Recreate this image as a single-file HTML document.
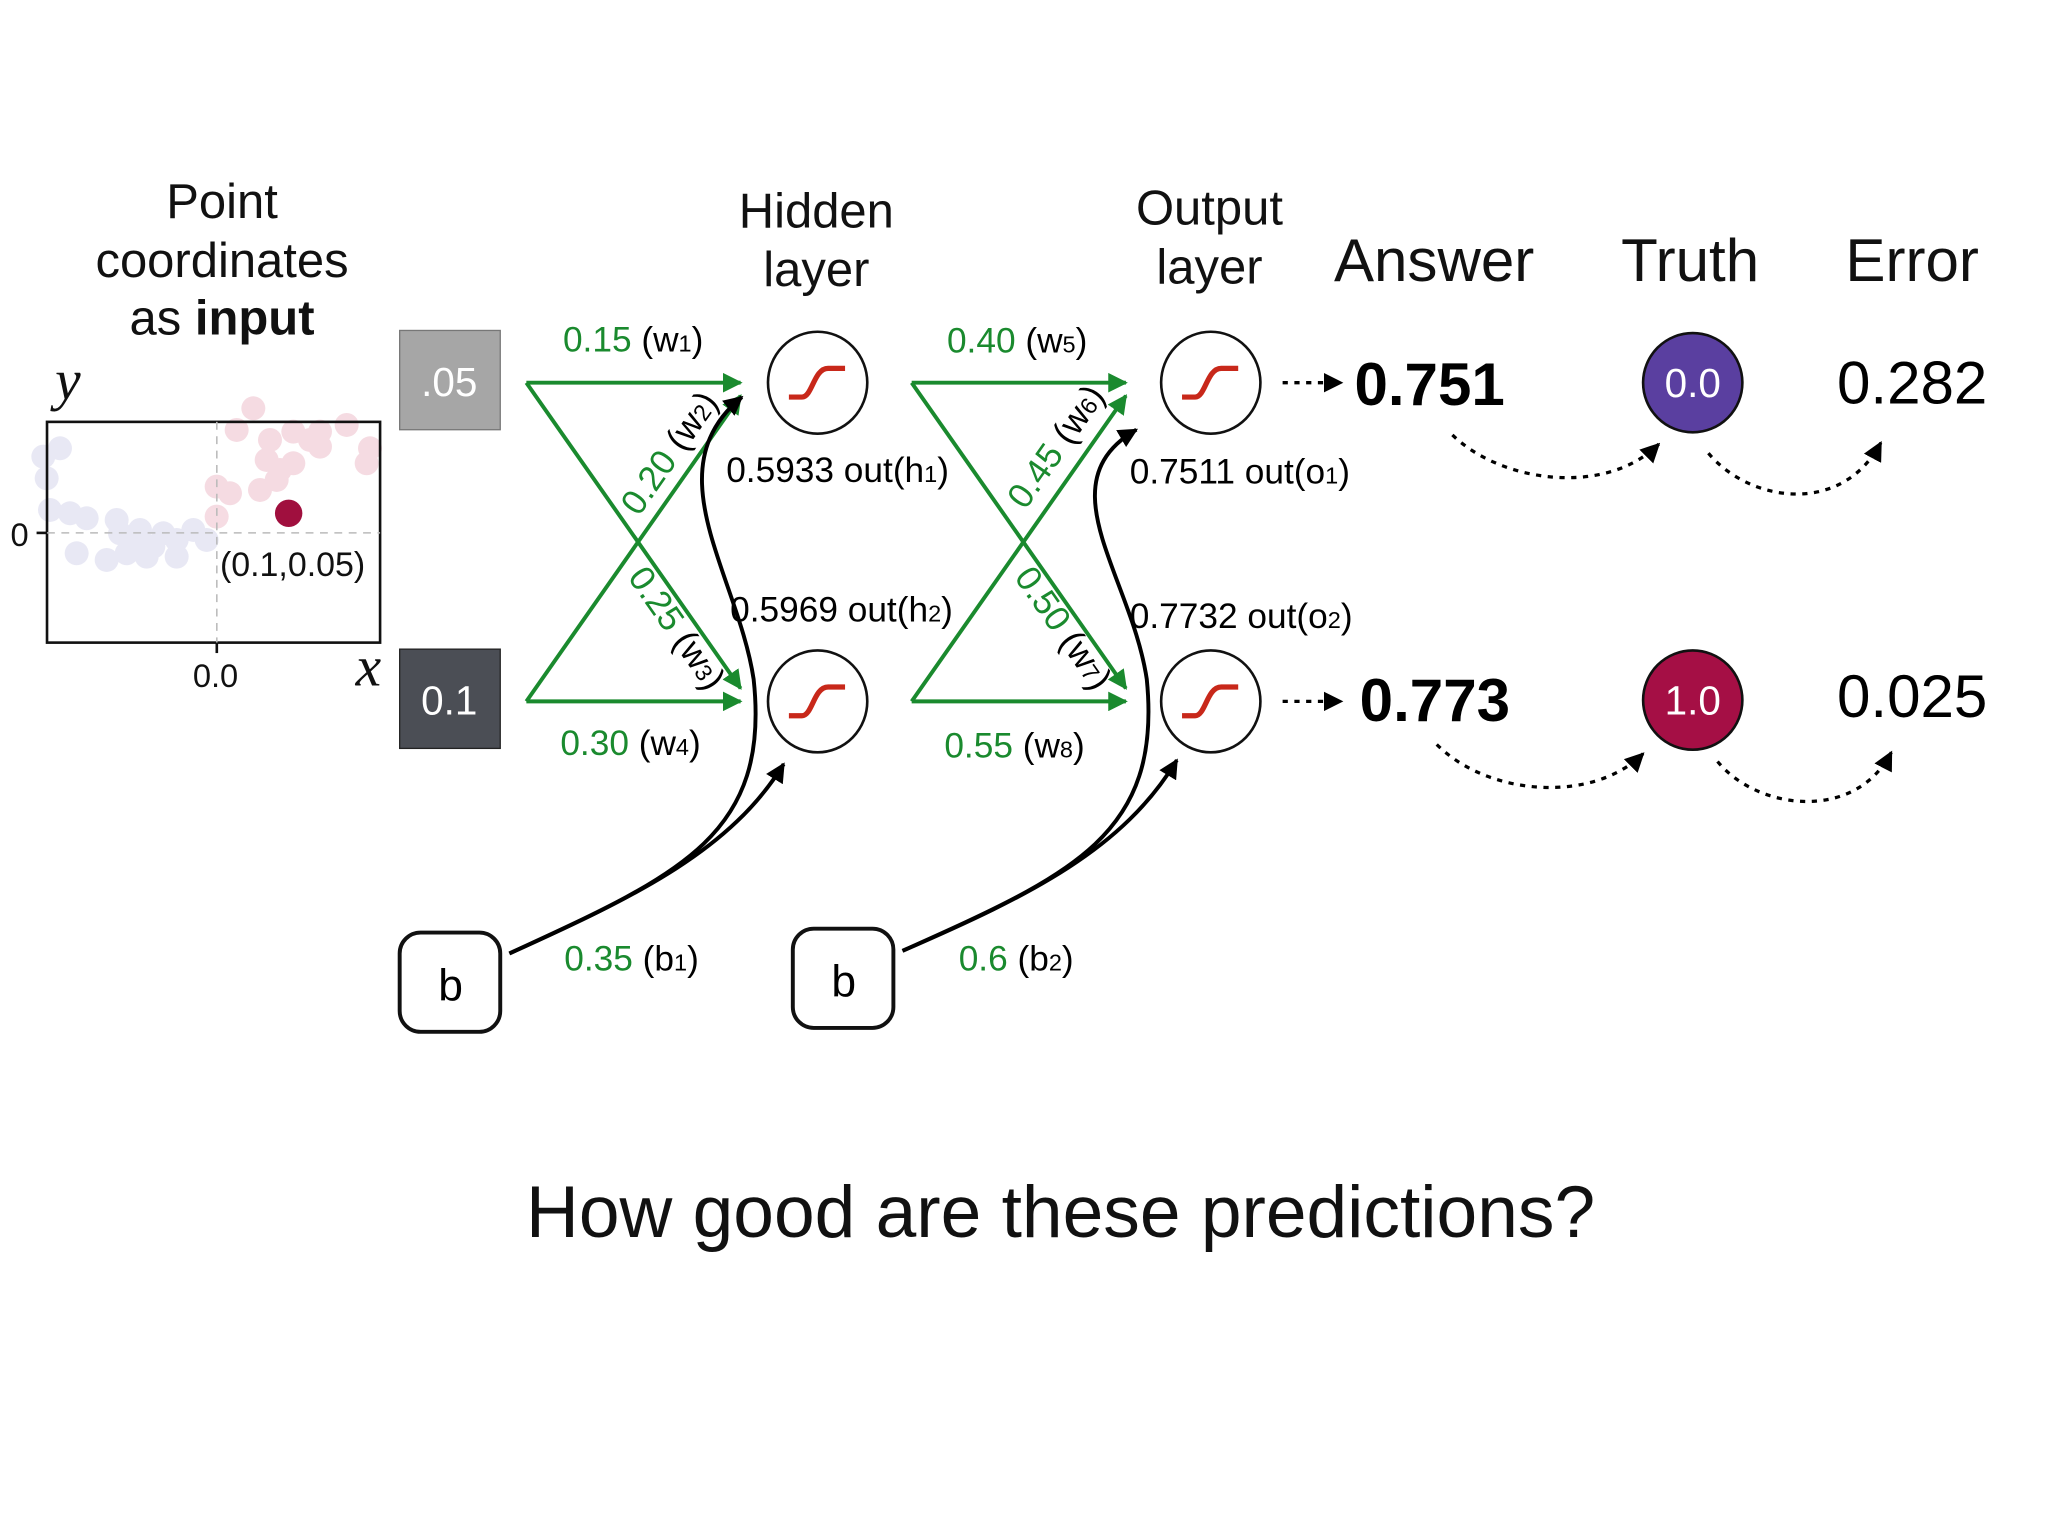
<!DOCTYPE html>
<html><head><meta charset="utf-8"><style>html,body{margin:0;padding:0;background:#fff}svg{display:block}text{font-family:"Liberation Sans",sans-serif}</style></head>
<body>
<svg width="2048" height="1536" viewBox="0 0 1568 1176" xmlns="http://www.w3.org/2000/svg">
<defs>
<marker id="ga" viewBox="0 0 10 10" refX="9" refY="5" markerWidth="5" markerHeight="5" orient="auto" markerUnits="strokeWidth"><path d="M0,0 L10,5 L0,10 z" fill="#1a8a2e"/></marker>
<marker id="ba" viewBox="0 0 10 10" refX="9" refY="5" markerWidth="5" markerHeight="5" orient="auto" markerUnits="strokeWidth"><path d="M0,0 L10,5 L0,10 z" fill="#000"/></marker>
<marker id="da" viewBox="0 0 10 10" refX="9" refY="5" markerWidth="6" markerHeight="6" orient="auto" markerUnits="strokeWidth"><path d="M0,0 L10,5 L0,10 z" fill="#000"/></marker>
<g id="sig"><path d="M-22,11 L-12,11 C-4,11 -3,-11 8,-11 L21,-11" fill="none" stroke="#c8281a" stroke-width="4"/></g>
</defs>

<g font-size="37.5" text-anchor="middle" fill="#111">
<text x="170" y="167">Point</text>
<text x="170" y="212">coordinates</text>
<text x="170" y="256">as <tspan font-weight="bold">input</tspan></text>
<text x="625" y="174">Hidden</text>
<text x="625" y="219">layer</text>
<text x="926" y="172">Output</text>
<text x="926" y="217">layer</text>
<text x="1098" y="215" font-size="46">Answer</text>
<text x="1294" y="215" font-size="46">Truth</text>
<text x="1464" y="215" font-size="46">Error</text>
</g>

<g transform="translate(0,275.6) scale(0.2552)">
<g fill="#c8c8e6" opacity="0.4">
<circle cx="180" cy="265" r="36"/><circle cx="130" cy="290" r="36"/><circle cx="140" cy="355" r="36"/><circle cx="150" cy="450" r="36"/><circle cx="210" cy="460" r="36"/><circle cx="260" cy="475" r="36"/><circle cx="230" cy="580" r="36"/><circle cx="320" cy="600" r="36"/><circle cx="350" cy="480" r="36"/><circle cx="360" cy="520" r="36"/><circle cx="400" cy="540" r="36"/><circle cx="420" cy="510" r="36"/><circle cx="460" cy="560" r="36"/><circle cx="490" cy="520" r="36"/><circle cx="530" cy="540" r="36"/><circle cx="580" cy="510" r="36"/><circle cx="620" cy="540" r="36"/><circle cx="440" cy="590" r="36"/><circle cx="530" cy="590" r="36"/><circle cx="380" cy="580" r="36"/>
</g>
<g fill="#e8a8b8" opacity="0.4">
<circle cx="760" cy="145" r="36"/><circle cx="710" cy="210" r="36"/><circle cx="810" cy="240" r="36"/><circle cx="880" cy="215" r="36"/><circle cx="960" cy="215" r="36"/><circle cx="1040" cy="195" r="36"/><circle cx="1110" cy="265" r="36"/><circle cx="1100" cy="310" r="36"/><circle cx="800" cy="300" r="36"/><circle cx="840" cy="330" r="36"/><circle cx="880" cy="310" r="36"/><circle cx="830" cy="360" r="36"/><circle cx="780" cy="390" r="36"/><circle cx="650" cy="380" r="36"/><circle cx="690" cy="400" r="36"/><circle cx="650" cy="470" r="36"/><circle cx="960" cy="260" r="36"/><circle cx="930" cy="240" r="36"/>
</g>
</g>
<rect x="36" y="323" width="255" height="169" fill="none" stroke="#111" stroke-width="2"/>
<line x1="36" y1="408" x2="291" y2="408" stroke="#bbb" stroke-width="1.2" stroke-dasharray="6,5"/>
<line x1="166" y1="323" x2="166" y2="492" stroke="#bbb" stroke-width="1.2" stroke-dasharray="6,5"/>
<line x1="28" y1="408" x2="36" y2="408" stroke="#111" stroke-width="2"/>
<line x1="166" y1="492" x2="166" y2="500" stroke="#111" stroke-width="2"/>
<circle cx="221" cy="393" r="10.5" fill="#a00f3e"/>
<text x="224" y="441" font-size="26" text-anchor="middle" fill="#111">(0.1,0.05)</text>
<text x="15" y="418" font-size="25" text-anchor="middle" fill="#111">0</text>
<text x="165" y="526" font-size="25" text-anchor="middle" fill="#111">0.0</text>
<text x="52" y="306" font-size="44" font-style="italic" text-anchor="middle" style="font-family:'Liberation Serif',serif" fill="#111">y</text>
<text x="282" y="525" font-size="44" font-style="italic" text-anchor="middle" style="font-family:'Liberation Serif',serif" fill="#111">x</text>

<rect x="306" y="253" width="77" height="76" fill="#a6a6a6" stroke="#777" stroke-width="1"/>
<text x="344" y="303" font-size="31" fill="#fff" text-anchor="middle">.05</text>
<rect x="306" y="497" width="77" height="76" fill="#4b4e55" stroke="#222" stroke-width="1"/>
<text x="344" y="547" font-size="31" fill="#fff" text-anchor="middle">0.1</text>

<g stroke="#1a8a2e" stroke-width="3" fill="none" marker-end="url(#ga)">
<line x1="403" y1="293" x2="567" y2="293"/>
<line x1="403" y1="293" x2="567" y2="527"/>
<line x1="403" y1="537" x2="567" y2="303"/>
<line x1="403" y1="537" x2="567" y2="537"/>
<line x1="698" y1="293" x2="862" y2="293"/>
<line x1="698" y1="293" x2="862" y2="527"/>
<line x1="698" y1="537" x2="862" y2="303"/>
<line x1="698" y1="537" x2="862" y2="537"/>
</g>
<g font-size="27">
<text x="431" y="269"><tspan fill="#1a8a2e">0.15</tspan> (w<tspan font-size="18">1</tspan>)</text>
<text x="429" y="578"><tspan fill="#1a8a2e">0.30</tspan> (w<tspan font-size="18">4</tspan>)</text>
<text x="725" y="270"><tspan fill="#1a8a2e">0.40</tspan> (w<tspan font-size="18">5</tspan>)</text>
<text x="723" y="580"><tspan fill="#1a8a2e">0.55</tspan> (w<tspan font-size="18">8</tspan>)</text>
<text transform="translate(489,396) rotate(-55)"><tspan fill="#1a8a2e">0.20</tspan> (w<tspan font-size="18">2</tspan>)</text>
<text transform="translate(785,391) rotate(-55)"><tspan fill="#1a8a2e">0.45</tspan> (w<tspan font-size="18">6</tspan>)</text>
<text transform="translate(480,442) rotate(55)"><tspan fill="#1a8a2e">0.25</tspan> (w<tspan font-size="18">3</tspan>)</text>
<text transform="translate(776,442) rotate(55)"><tspan fill="#1a8a2e">0.50</tspan> (w<tspan font-size="18">7</tspan>)</text>
<text x="556" y="369">0.5933 out(h<tspan font-size="18">1</tspan>)</text>
<text x="559" y="476">0.5969 out(h<tspan font-size="18">2</tspan>)</text>
<text x="865" y="370">0.7511 out(o<tspan font-size="18">1</tspan>)</text>
<text x="865" y="481">0.7732 out(o<tspan font-size="18">2</tspan>)</text>
<text x="432" y="743"><tspan fill="#1a8a2e">0.35</tspan> (b<tspan font-size="18">1</tspan>)</text>
<text x="734" y="743"><tspan fill="#1a8a2e">0.6</tspan> (b<tspan font-size="18">2</tspan>)</text>
</g>

<g fill="#fff" stroke="#111" stroke-width="2">
<ellipse cx="626" cy="293" rx="38" ry="39"/><ellipse cx="626" cy="537" rx="38" ry="39"/>
<ellipse cx="927" cy="293" rx="38" ry="39"/><ellipse cx="927" cy="537" rx="38" ry="39"/>
</g>
<use href="#sig" x="626" y="293"/><use href="#sig" x="626" y="537"/>
<use href="#sig" x="927" y="293"/><use href="#sig" x="927" y="537"/>

<rect x="306" y="714" width="77" height="76" rx="16" fill="#fff" stroke="#111" stroke-width="3"/>
<text x="345" y="766" font-size="34" text-anchor="middle">b</text>
<rect x="607" y="711" width="77" height="76" rx="16" fill="#fff" stroke="#111" stroke-width="3"/>
<text x="646" y="763" font-size="34" text-anchor="middle">b</text>
<g stroke="#000" stroke-width="3" fill="none" marker-end="url(#ba)">
<path d="M390,730 C520,670 590,640 577,520 C565,440 500,360 568,304"/>
<path d="M390,730 C490,685 560,650 600,585"/>
<path d="M691,728 C820,670 890,640 878,520 C866,440 800,370 870,329"/>
<path d="M691,728 C790,685 860,650 901,582"/>
</g>

<g stroke="#000" stroke-width="2.5" fill="none" stroke-dasharray="4,5">
<line x1="982" y1="293" x2="1027" y2="293" marker-end="url(#da)"/>
<line x1="982" y1="537" x2="1027" y2="537" marker-end="url(#da)"/>
<path d="M1112,333 C1150,370 1230,380 1270,340" marker-end="url(#da)"/>
<path d="M1308,347 C1340,385 1410,395 1440,339" marker-end="url(#da)"/>
<path d="M1100,570 C1140,610 1220,615 1258,577" marker-end="url(#da)"/>
<path d="M1315,583 C1345,620 1420,630 1448,576" marker-end="url(#da)"/>
</g>
<text x="1037" y="310" font-size="46" font-weight="bold">0.751</text>
<text x="1041" y="552" font-size="46" font-weight="bold">0.773</text>
<circle cx="1296" cy="293" r="38" fill="#5a3fa0" stroke="#111" stroke-width="2"/>
<text x="1296" y="304" font-size="31" fill="#fff" text-anchor="middle">0.0</text>
<circle cx="1296" cy="536" r="38" fill="#a50f45" stroke="#111" stroke-width="2"/>
<text x="1296" y="547" font-size="31" fill="#fff" text-anchor="middle">1.0</text>
<text x="1464" y="309" font-size="46" text-anchor="middle">0.282</text>
<text x="1464" y="549" font-size="46" text-anchor="middle">0.025</text>

<text x="812" y="947" font-size="56" text-anchor="middle" fill="#111">How good are these predictions?</text>
</svg>
</body></html>
